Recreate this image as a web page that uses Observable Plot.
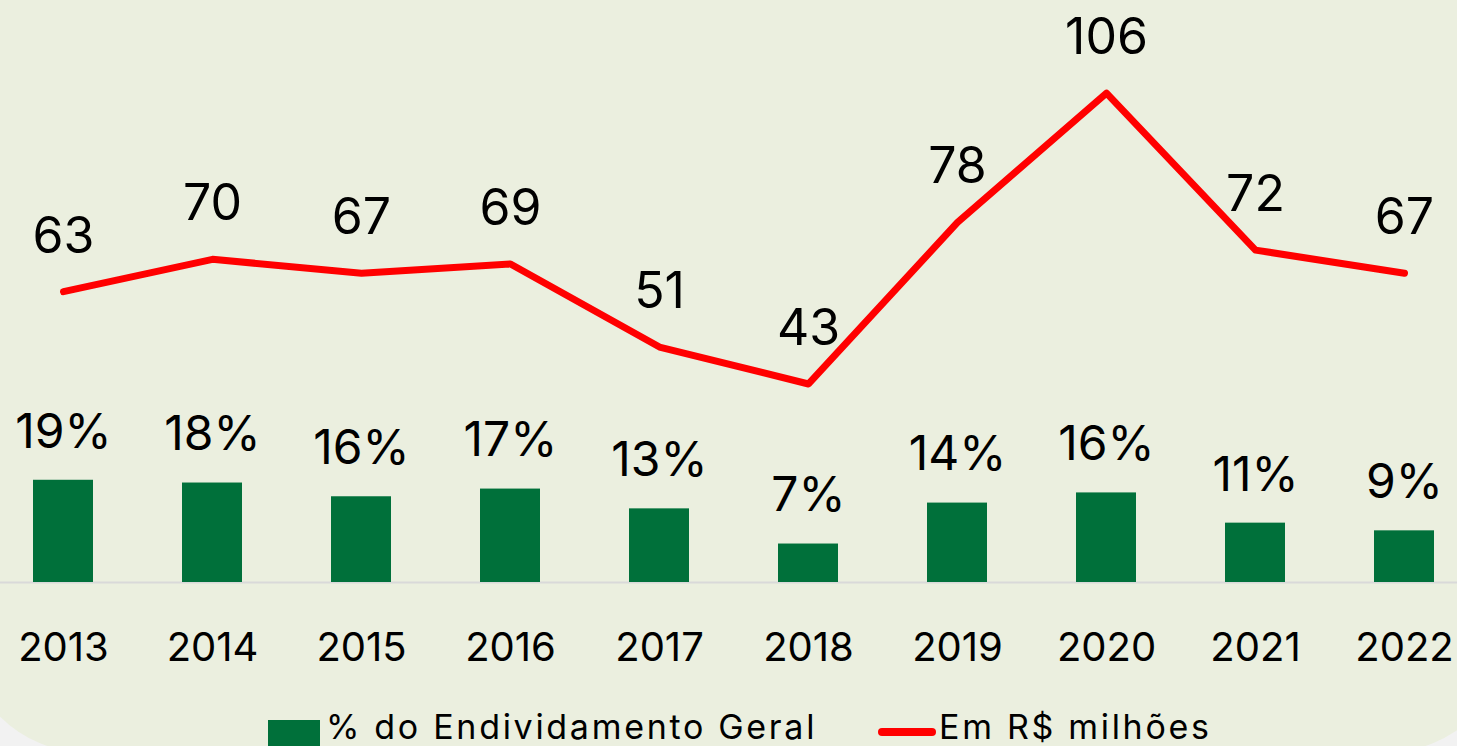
<!DOCTYPE html>
<html>
<head>
<meta charset="utf-8">
<script src="https://cdn.jsdelivr.net/npm/d3@7"></script>
<script src="https://cdn.jsdelivr.net/npm/@observablehq/plot@0.6"></script>
<style>
  html, body { margin: 0; padding: 0; background: #F2F2F2; overflow: hidden; }
  #wrap { position: relative; width: 1457px; height: 746px; overflow: hidden; font-family: Inter, "Open Sans", sans-serif; }
  #card { position: absolute; left: -35px; top: -60px; width: 1543px; height: 812px; background: #EBEFDF; border-radius: 120px; }
  #chart { position: absolute; left: 0; top: 0; }
  .lg { position: absolute; color: #000; font-size: 34px; line-height: 1; white-space: nowrap; letter-spacing: 2.7px; }
</style>
</head>
<body>
<div id="wrap">
  <div id="card"></div>
  <div id="chart"></div>
  <div id="legend"></div>
</div>
<script>
const years = ["2013","2014","2015","2016","2017","2018","2019","2020","2021","2022"];
const pctDebt = [18.6, 18.1, 15.6, 17.0, 13.4, 7.0, 14.45, 16.3, 10.8, 9.4];
const millions = [63, 70, 67, 69, 51, 43, 78, 106, 72, 67];
const seriesNames = ["% do Endividamento Geral", "Em R$ milhões"];
const lineAxisMax = 120;   // primary axis (R$ milhões)
const pctAxisMax = 100.8;  // secondary axis (%)

const barColor = "#00703A";
const lineColor = "#FF0000";

const toPrimary = v => v * lineAxisMax / pctAxisMax;
const data = years.map((y, i) => ({year: y, pct: pctDebt[i], mil: millions[i]}));

const plot = Plot.plot({
  width: 1457,
  height: 705,
  marginLeft: 33,
  marginRight: 23,
  marginTop: 28,
  marginBottom: 123,
  style: {background: "transparent", fontFamily: "Inter, 'Open Sans', sans-serif", color: "#000", overflow: "visible"},
  x: {type: "band", domain: years, paddingInner: 0.6, paddingOuter: 0, align: 0.5, label: null},
  y: {domain: [0, lineAxisMax], axis: null},
  marks: [
    Plot.ruleY([0], {stroke: "#D9D9D9", strokeWidth: 2, insetLeft: -33, insetRight: -23}),
    Plot.barY(data, {x: "year", y: d => toPrimary(d.pct), fill: barColor}),
    Plot.text(data, {x: "year", y: d => toPrimary(d.pct), text: d => Math.round(d.pct) + "%", dy: -48, fontSize: 48, fill: "#000", lineAnchor: "middle"}),
    Plot.line(data, {x: "year", y: "mil", stroke: lineColor, strokeWidth: 7, strokeLinejoin: "round", strokeLinecap: "round"}),
    Plot.text(data, {x: "year", y: "mil", text: d => String(d.mil), dy: -55, fontSize: 50, fill: "#000", lineAnchor: "middle"}),
    Plot.axisX({tickSize: 0, tickPadding: 50, fontSize: 40, label: null, fill: "#000"})
  ]
});
document.getElementById("chart").appendChild(plot);

const lg = document.getElementById("legend");
lg.innerHTML = `
  <div style="position:absolute;left:268px;top:720px;width:52px;height:40px;background:${barColor}"></div>
  <div class="lg" style="left:326px;top:710px;">${seriesNames[0]}</div>
  <div style="position:absolute;left:878px;top:728px;width:58px;height:8px;border-radius:4px;background:${lineColor}"></div>
  <div class="lg" style="left:939px;top:710px;">${seriesNames[1]}</div>
`;
</script>
</body>
</html>
